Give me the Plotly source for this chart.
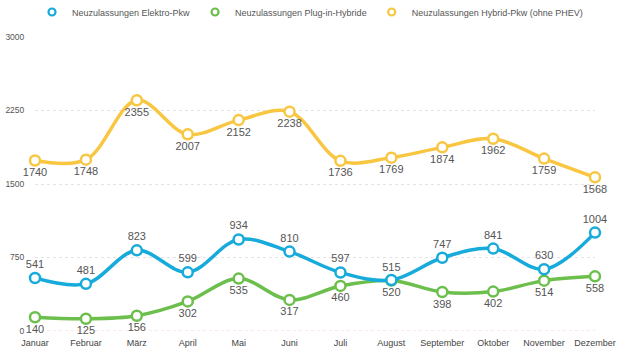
import plotly.graph_objects as go

months = ["Januar", "Februar", "März", "April", "Mai", "Juni", "Juli",
          "August", "September", "Oktober", "November", "Dezember"]
elektro = [541, 481, 823, 599, 934, 810, 597, 520, 747, 841, 630, 1004]
plugin = [140, 125, 156, 302, 535, 317, 460, 515, 398, 402, 514, 558]
hybrid = [1740, 1748, 2355, 2007, 2152, 2238, 1736, 1769, 1874, 1962, 1759, 1568]
y_ticks = [0, 750, 1500, 2250, 3000]

names = ["Neuzulassungen Elektro-Pkw", "Neuzulassungen Plug-in-Hybride",
         "Neuzulassungen Hybrid-Pkw (ohne PHEV)"]
colors = ["#17ABDB", "#6CBF4C", "#F8C640"]
series = [elektro, plugin, hybrid]
# label placement per series (August swapped to avoid overlap)
positions = [
    ["top center"] * 7 + ["bottom center"] + ["top center"] * 4,
    ["bottom center"] * 7 + ["top center"] + ["bottom center"] * 4,
    ["bottom center"] * 12,
]

FONT = "Liberation Sans, Arial, sans-serif"
fig = go.Figure()

# draw yellow first, then green, then blue on top
for idx in [2, 1, 0]:
    fig.add_trace(go.Scatter(
        x=months, y=series[idx], name=names[idx],
        mode="lines+markers+text",
        text=[str(v) for v in series[idx]],
        textposition=positions[idx],
        textfont=dict(family=FONT, size=11, color="#555555"),
        line=dict(color=colors[idx], width=3.5, shape="spline", smoothing=1),
        marker=dict(size=10, color="white", line=dict(color=colors[idx], width=2.5)),
        cliponaxis=False, showlegend=False,
    ))

for idx in [0, 1, 2]:
    fig.add_trace(go.Scatter(
        x=[None], y=[None], name=names[idx], mode="markers",
        marker=dict(size=7, color="white", line=dict(color=colors[idx], width=2.2)),
        showlegend=True,
    ))

fig.add_shape(type="line", xref="paper", yref="y", x0=0, x1=1, y0=0, y1=0,
              line=dict(color="#F6CDD3", width=1, dash="dot"), layer="below")

fig.update_layout(
    width=620, height=352,
    margin=dict(l=35, r=25, t=37, b=21, autoexpand=False),
    paper_bgcolor="white", plot_bgcolor="white",
    font=dict(family=FONT, color="#555555"),
    legend=dict(orientation="h", xref="container", yref="container",
                x=0.5, xanchor="center", y=1 - 12 / 352, yanchor="middle",
                font=dict(size=9, color="#555555"), itemwidth=30,
                traceorder="normal", bgcolor="rgba(0,0,0,0)"),
    xaxis=dict(type="category", categoryorder="array", categoryarray=months,
               range=[0, 11], showgrid=False, zeroline=False, showline=False,
               automargin=False,
               ticks="outside", ticklen=3, tickcolor="rgba(0,0,0,0)",
               tickfont=dict(size=9, color="#444444")),
    yaxis=dict(range=[0, 3000], tickvals=y_ticks, ticktext=[str(v) for v in y_ticks],
               showgrid=True, gridcolor="#E3E3E3", griddash="dot", gridwidth=1,
               zeroline=False, showline=False, automargin=False,
               ticks="outside", ticklen=8, tickcolor="rgba(0,0,0,0)",
               tickfont=dict(size=8.5, color="#555555")),
)

fig.write_html("out.html")
